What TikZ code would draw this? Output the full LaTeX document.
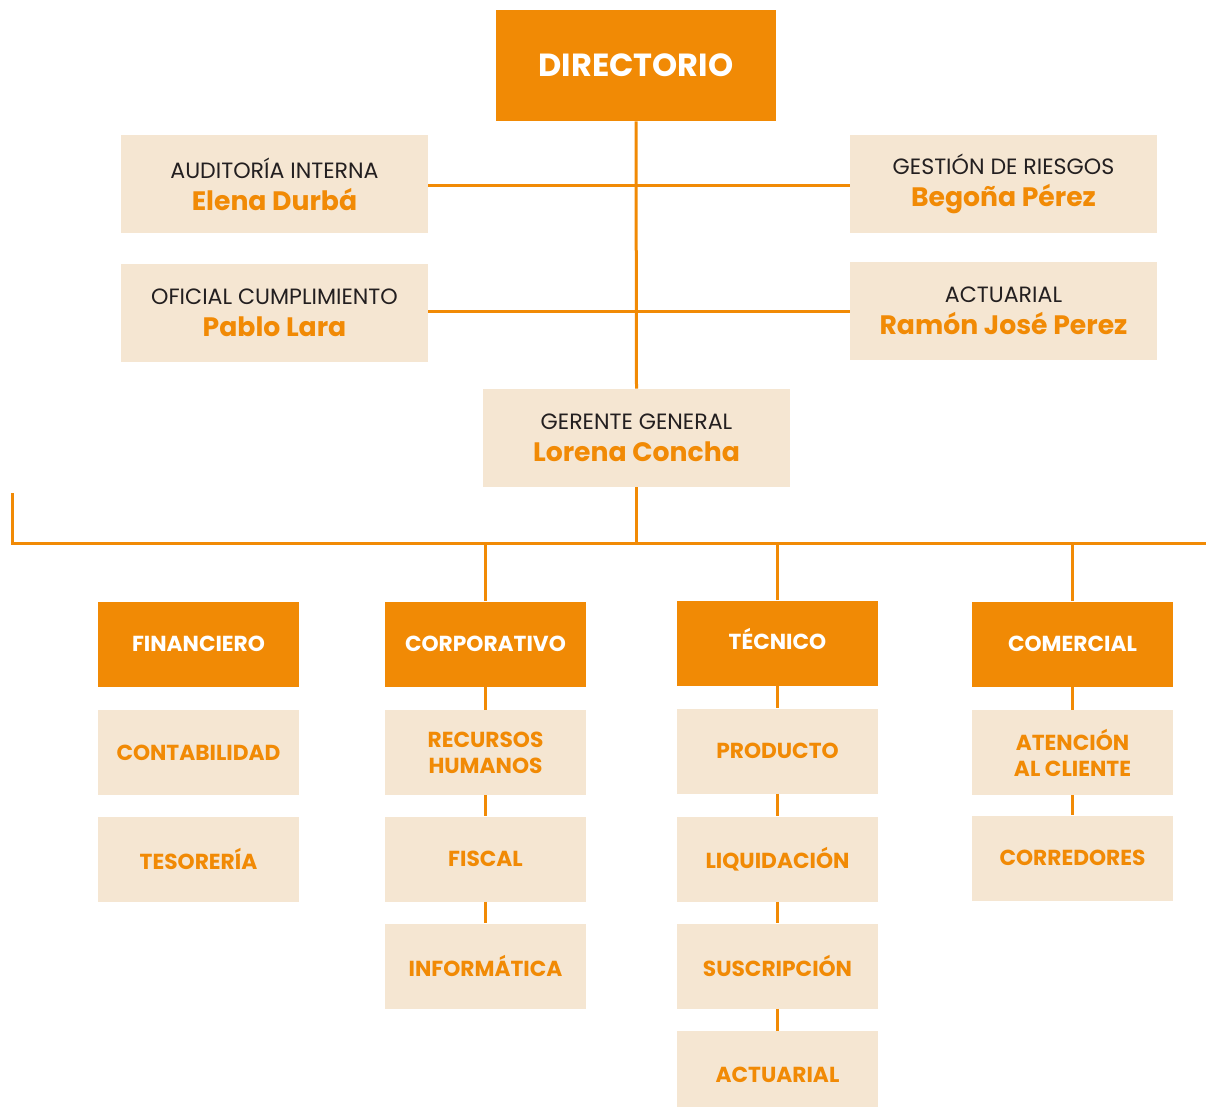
\documentclass[tikz,border=0pt]{standalone}
\usepackage{fontspec}
\setmainfont{Poppins}
\definecolor{naranja}{HTML}{F18A05}
\definecolor{crema}{HTML}{F5E6D2}
\definecolor{tinta}{HTML}{231F20}
\newcommand{\nombre}[1]{{\bfseries\color{naranja}\fontsize{20}{24}\selectfont #1}}

\begin{document}
\begin{tikzpicture}[x=0.75pt,y=-0.75pt,
  linea/.style={draw=naranja,line width=2.25pt},
  jefe/.style={fill=naranja,text=white,inner sep=0pt,align=center,
    minimum width=150.75pt,minimum height=63.75pt,font=\bfseries\fontsize{16.3}{19.5}\selectfont},
  area/.style={fill=crema,text=naranja,inner sep=0pt,align=center,
    minimum width=150.75pt,minimum height=63.75pt,font=\bfseries\fontsize{16.3}{19.5}\selectfont},
  cargo/.style={fill=crema,text=tinta,inner sep=0pt,align=center,
    minimum width=230.25pt,minimum height=73.5pt,font=\fontsize{16.6}{24}\selectfont}]
  \useasboundingbox (0,0) rectangle (1206,1107);

  % top of the chart
  \node[fill=naranja,text=white,minimum width=210pt,minimum height=83.25pt,
    font=\bfseries\fontsize{24}{28}\selectfont] (dir) at (636,65.5) {DIRECTORIO};
  \node[cargo] (aud) at (274.5,184) {AUDITORÍA INTERNA\\\nombre{Elena Durbá}};
  \node[cargo] (ofi) at (274.5,313) {OFICIAL CUMPLIMIENTO\\\nombre{Pablo Lara}};
  \node[cargo] (ges) at (1003.5,184) {GESTIÓN DE RIESGOS\\\nombre{Begoña Pérez}};
  \node[cargo] (act) at (1003.5,311) {ACTUARIAL\\\nombre{Ramón José Perez}};
  \node[cargo] (ger) at (636.5,438) {GERENTE GENERAL\\\nombre{Lorena Concha}};

  \draw[linea] (dir.south) -- (ger.north);
  \draw[linea] ([yshift=-0.75pt]aud.east) -- ([yshift=-0.75pt]ges.west);
  \draw[linea] (act.west) -- (act.west -| ofi.east);

  % areas
  \coordinate (busL) at (12,493);
  \coordinate (busR) at (1206,543);
  \draw[linea] (busL) |- (busR);
  \draw[linea] (ger.south) -- ([yshift=-1.5pt]ger.south |- busR);

  \node[jefe] (fin) at (198.5,644) {FINANCIERO};
  \node[jefe] (cor) at (485.5,644) {CORPORATIVO};
  \node[jefe,text height=10pt,text depth=0pt] (tec) at (777.5,643) {TÉCNICO};
  \node[jefe] (com) at (1072.5,644) {COMERCIAL};

  \node[area] (cont) at (198.5,752.5) {CONTABILIDAD};
  \node[area] (teso) at (198.5,859) {TESORERÍA};

  \node[area] (rrhh) at (485.5,752.5) {RECURSOS\\HUMANOS};
  \node[area] (fisc) at (485.5,859) {FISCAL};
  \node[area] (info) at (485.5,966) {INFORMÁTICA};

  \node[area] (prod) at (777.5,751) {PRODUCTO};
  \node[area] (liq) at (777.5,859) {LIQUIDACIÓN};
  \node[area] (susc) at (777.5,966) {SUSCRIPCIÓN};
  \node[area,minimum height=57pt,text height=20.5pt,text depth=0pt] (actu) at (777.5,1069) {ACTUARIAL};

  \node[area] (aten) at (1072.5,752.5) {ATENCIÓN\\AL CLIENTE};
  \node[area] (corr) at (1072.5,858) {CORREDORES};

  \foreach \a in {cor,tec,com}
    \draw[linea] (\a.north) -- (\a.north |- busR);
  \foreach \a/\b in {cor/rrhh,rrhh/fisc,fisc/info,tec/prod,prod/liq,liq/susc,susc/actu,com/aten,aten/corr}
    \draw[linea] (\a.south) -- (\b.north);
\end{tikzpicture}
\end{document}
